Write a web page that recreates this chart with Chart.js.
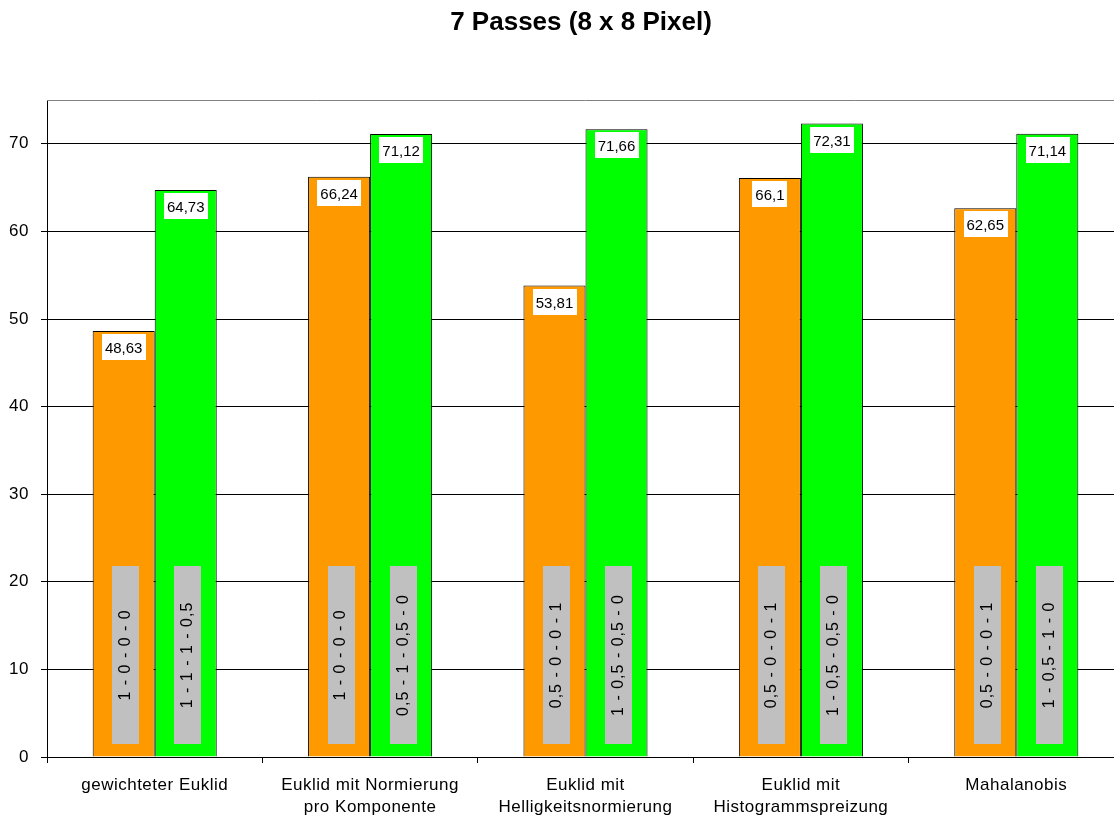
<!DOCTYPE html>
<html>
<head>
<meta charset="utf-8">
<script src="https://cdn.jsdelivr.net/npm/chart.js@4"></script>
<style>
html,body{margin:0;padding:0;background:#fff;overflow:hidden;width:1114px;height:818px;}
#wrap{position:absolute;left:0;top:0;width:1114px;height:818px;overflow:hidden;}
canvas{display:block;}
</style>
</head>
<body>
<div id="wrap"><canvas id="c" width="1130" height="818"></canvas></div>
<script>
const titleText = '7 Passes (8 x 8 Pixel)';
const categories = [
  'gewichteter Euklid',
  ['Euklid mit Normierung', 'pro Komponente'],
  ['Euklid mit', 'Helligkeitsnormierung'],
  ['Euklid mit', 'Histogrammspreizung'],
  'Mahalanobis'
];
const orangeValues = [48.63, 66.24, 53.81, 66.1, 62.65];
const greenValues = [64.73, 71.12, 71.66, 72.31, 71.14];
const orangeWeights = ['1 - 0 - 0 - 0', '1 - 0 - 0 - 0', '0,5 - 0 - 0 - 1', '0,5 - 0 - 0 - 1', '0,5 - 0 - 0 - 1'];
const greenWeights = ['1 - 1 - 1 - 0,5', '0,5 - 1 - 0,5 - 0', '1 - 0,5 - 0,5 - 0', '1 - 0,5 - 0,5 - 0', '1 - 0,5 - 1 - 0'];
const yMin = 0, yMax = 75, yStep = 10;
const weightBoxRange = [1.5, 21.8];

const FONT = '"Liberation Sans", Arial, sans-serif';

const decoPlugin = {
  id: 'deco',
  beforeDraw(chart) {
    chart.ctx.letterSpacing = '0.5px';
  },
  beforeDatasetsDraw(chart) {
    const {ctx, chartArea} = chart;
    ctx.save();
    ctx.strokeStyle = '#808080';
    ctx.lineWidth = 1;
    ctx.beginPath();
    ctx.moveTo(chartArea.left, Math.round(chartArea.top) + 0.5);
    ctx.lineTo(chartArea.right, Math.round(chartArea.top) + 0.5);
    ctx.stroke();
    ctx.restore();
  },
  afterDatasetsDraw(chart) {
    const {ctx} = chart;
    const y = chart.scales.y;
    const weights = [orangeWeights, greenWeights];
    ctx.save();
    chart.data.datasets.forEach((ds, di) => {
      const meta = chart.getDatasetMeta(di);
      meta.data.forEach((bar, i) => {
        // value label
        const txt = String(ds.data[i]).replace('.', ',');
        ctx.letterSpacing = '0px';
        ctx.font = '15px ' + FONT;
        const w = ctx.measureText(txt).width + 6;
        const top = bar.y + 3;
        ctx.fillStyle = '#ffffff';
        ctx.fillRect(Math.round(bar.x - w / 2), Math.round(top), Math.round(w), 26);
        ctx.fillStyle = '#000000';
        ctx.textAlign = 'center';
        ctx.textBaseline = 'middle';
        ctx.fillText(txt, bar.x, top + 15);
        // weight box
        const yTop = y.getPixelForValue(weightBoxRange[1]);
        const yBot = y.getPixelForValue(weightBoxRange[0]);
        const cx = bar.x + 2;
        ctx.fillStyle = '#C0C0C0';
        ctx.fillRect(Math.round(cx - 13.5), Math.round(yTop), 27, Math.round(yBot - yTop));
        ctx.save();
        ctx.translate(cx, (yTop + yBot) / 2);
        ctx.rotate(-Math.PI / 2);
        ctx.font = '16px ' + FONT;
        ctx.letterSpacing = '1px';
        ctx.fillStyle = '#000000';
        ctx.textAlign = 'center';
        ctx.textBaseline = 'middle';
        ctx.fillText(weights[di][i], 0, 0);
        ctx.restore();
      });
    });
    // title
    ctx.letterSpacing = '0px';
    ctx.font = 'bold 26px ' + FONT;
    ctx.fillStyle = '#000000';
    ctx.textAlign = 'center';
    ctx.textBaseline = 'middle';
    ctx.fillText(titleText, 581, 23);
    ctx.restore();
  }
};

new Chart(document.getElementById('c'), {
  type: 'bar',
  data: {
    labels: categories,
    datasets: [
      {label: 'A', data: orangeValues, backgroundColor: '#FF9900', borderColor: '#000000', borderWidth: 1,
       barPercentage: 1, categoryPercentage: 0.576},
      {label: 'B', data: greenValues, backgroundColor: '#00FF00', borderColor: '#000000', borderWidth: 1,
       barPercentage: 1, categoryPercentage: 0.576}
    ]
  },
  options: {
    responsive: false,
    animation: false,
    devicePixelRatio: 1,
    layout: {padding: {top: 100, right: 6, left: 0, bottom: 0}},
    plugins: {legend: {display: false}, tooltip: {enabled: false}, title: {display: false}},
    scales: {
      x: {
        afterFit(s) { s.height = 61; },
        grid: {display: true, drawOnChartArea: false, offset: true, color: '#000000', tickLength: 6, lineWidth: 1},
        border: {display: true, color: '#000000', width: 1},
        ticks: {color: '#000000', font: {family: FONT, size: 17, lineHeight: 1.25}, padding: 12, maxRotation: 0, autoSkip: false}
      },
      y: {
        min: yMin, max: yMax,
        afterFit(s) { s.width = 47; },
        grid: {color: '#000000', lineWidth: 1, tickLength: 6},
        border: {display: true, color: '#000000', width: 1},
        ticks: {stepSize: yStep, includeBounds: false, color: '#000000', font: {family: FONT, size: 17}, padding: 12}
      }
    }
  },
  plugins: [decoPlugin]
});
</script>
</body>
</html>
